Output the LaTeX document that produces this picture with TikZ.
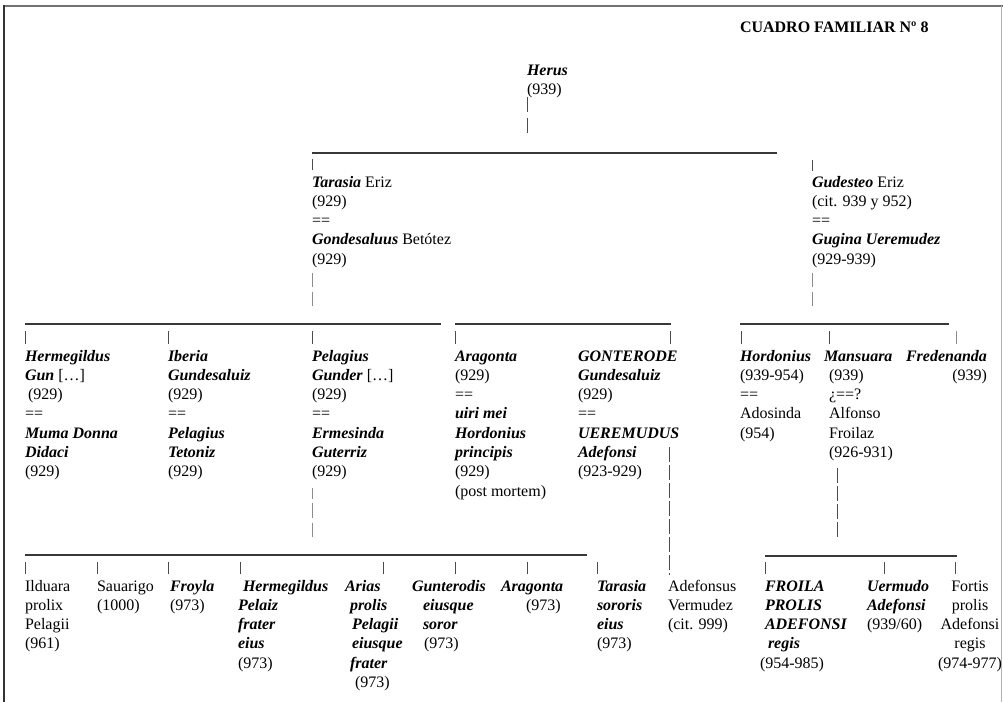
\documentclass[tikz,border=0pt]{standalone}
\usepackage{fontspec}
\setmainfont{Liberation Serif}
\newcommand\pf{\fontsize{16}{19.3}\selectfont}
\newcommand\nmb[1]{\textbf{\textit{#1}}}
\begin{document}
\begin{tikzpicture}[x=1pt,y=-1pt,
  pers/.style={anchor=north west, inner sep=0pt, outer sep=0pt, align=left, font=\pf, yshift=13.51pt},
  persr/.style={pers, align=right},
  persc/.style={pers, anchor=north, align=center},
  hbar/.style={line width=1.2pt, black!78},
  tk/.style={line width=0.7pt, black!70},
  tkl/.style={line width=0.6pt, black!45},
  tkd/.style={line width=0.7pt, black!70, dash pattern=on 15pt off 3pt}]
\useasboundingbox (0,0) rectangle (1003,702);

% page frame
\draw[line width=2pt, black!55] (3,6) -- (1003,6);
\draw[line width=1.6pt, black!80] (4,5) -- (4,702);
\draw[line width=0.8pt, black!30] (1001,6) -- (1001,702);

% title
\node[pers, font=\pf\bfseries] (title) at (740,32) {\strut CUADRO FAMILIAR Nº 8};

% generation 1
\node[pers] (herus) at (527,75) {\strut\nmb{Herus}\\(939)};
\coordinate (hA) at (527,97);
\coordinate (hB) at (527,133);
\draw[tk] (hA) -- ++(0,15);
\draw[tk] (hB) -- ++(0,-15);

% generation 2
\coordinate (b1l) at (312,153);
\coordinate (b1r) at (777,153);
\draw[hbar] (b1l) -- (b1r);

\node[pers] (tarasia) at (312,187) {\strut\nmb{Tarasia} Eriz\\(929)\\==\\\nmb{Gondesaluus} Betótez\\(929)};
\node[pers] (gudesteo) at (812,187) {\strut\nmb{Gudesteo} Eriz\\(cit. 939 y 952)\\==\\\nmb{Gugina Ueremudez}\\(929-939)};

\draw[tk] (312,159) -- (312,170);
\draw[tk] (812,160) -- (812,171);
\draw[tkl] (312,273) -- (312,287);
\draw[tkl] (312,292) -- (312,306);
\draw[tkl] (812,273) -- (812,287);
\draw[tkl] (812,292) -- (812,306);

% generation 3
\coordinate (b2al) at (25,324);  \coordinate (b2ar) at (441,324);
\coordinate (b2bl) at (455,324); \coordinate (b2br) at (671,324);
\coordinate (b2cl) at (740,324); \coordinate (b2cr) at (949,324);
\draw[hbar] (b2al) -- (b2ar);
\draw[hbar] (b2bl) -- (b2br);
\draw[hbar] (b2cl) -- (b2cr);

\foreach \x in {25,168,312,455,670,741,829}
  \draw[tk] (\x,331) -- (\x,344);
\draw[tkl] (956,331) -- (956,344);

\node[pers] (hermegildus) at (25,361) {\strut\nmb{Hermegildus}\\\nmb{Gun} […]\\\hspace*{3pt}(929)\\==\\\nmb{Muma Donna}\\\nmb{Didaci}\\(929)};
\node[pers] (iberia) at (168,361) {\strut\nmb{Iberia}\\\nmb{Gundesaluiz}\\(929)\\==\\\nmb{Pelagius}\\\nmb{Tetoniz}\\(929)};
\node[pers] (pelagius) at (312,361) {\strut\nmb{Pelagius}\\\nmb{Gunder} […]\\(929)\\==\\\nmb{Ermesinda}\\\nmb{Guterriz}\\(929)};
\node[pers] (aragonta) at (455,361) {\strut\nmb{Aragonta}\\(929)\\==\\\nmb{uiri mei}\\\nmb{Hordonius}\\\nmb{principis}\\(929)\\(post mortem)};
\node[pers] (gonterode) at (578,361) {\strut\nmb{GONTERODE}\\\nmb{Gundesaluiz}\\(929)\\==\\\nmb{UEREMUDUS}\\\nmb{Adefonsi}\\(923-929)};
\node[pers] (hordonius) at (740,361) {\strut\nmb{Hordonius}\\(939-954)\\==\\Adosinda\\(954)};
\node[pers] (mansuara) at (824,361) {\strut\nmb{Mansuara}\\\hspace*{5pt}(939)\\\hspace*{5pt}¿==?\\\hspace*{5pt}Alfonso\\\hspace*{5pt}Froilaz\\\hspace*{5pt}(926-931)};
\node[persr] (fredenanda) at (906,361) {\strut\nmb{Fredenanda}\\(939)};

\draw[tkl] (312,488) -- (312,499);
\draw[tkl] (312,503) -- (312,518);
\draw[tkl] (312,523) -- (312,537);
\draw[tkd] (669,447) -- (669,575);
\draw[tkd] (837,468) -- (837,537);

% generation 4
\coordinate (b3al) at (25,555);  \coordinate (b3ar) at (587,555);
\coordinate (b3bl) at (765,556); \coordinate (b3br) at (957,556);
\draw[hbar] (b3al) -- (b3ar);
\draw[hbar] (b3bl) -- (b3br);

\foreach \x in {25,97,168,240,383,455,527,597,765,884,955}
  \draw[tk] (\x,562) -- (\x,574);

\node[pers] (ilduara) at (25,591) {\strut Ilduara\\prolix\\Pelagii\\(961)};
\node[pers] (sauarigo) at (97,591) {\strut Sauarigo\\(1000)};
\node[pers] (froyla) at (170,591) {\strut\nmb{Froyla}\\(973)};
\node[pers] (hermpel) at (238,591) {\strut\hspace*{5pt}\nmb{Hermegildus}\\\nmb{Pelaiz}\\\nmb{frater}\\\nmb{eius}\\(973)};
\node[pers] (arias) at (345,591) {\strut\nmb{Arias}\\\hspace*{5pt}\nmb{prolis}\\\hspace*{7pt}\nmb{Pelagii}\\\hspace*{7pt}\nmb{eiusque}\\\hspace*{5pt}\nmb{frater}\\\hspace*{10pt}(973)};
\node[pers] (gunterodis) at (412,591) {\strut\nmb{Gunterodis}\\\hspace*{11pt}\nmb{eiusque}\\\hspace*{11pt}\nmb{soror}\\\hspace*{12pt}(973)};
\node[pers] (aragonta2) at (501,591) {\strut\nmb{Aragonta}\\\hspace*{25pt}(973)};
\node[pers] (tarasia2) at (597,591) {\strut\nmb{Tarasia}\\\nmb{sororis}\\\nmb{eius}\\(973)};
\node[pers] (adefonsus) at (668,591) {\strut Adefonsus\\Vermudez\\(cit. 999)};
\node[pers] (froila) at (765,591) {\strut\nmb{FROILA}\\\nmb{PROLIS}\\\nmb{ADEFONSI}\\\hspace*{3pt}\nmb{regis}\\\hspace*{-5pt}(954-985)};
\node[pers] (uermudo) at (867,591) {\strut\nmb{Uermudo}\\\nmb{Adefonsi}\\(939/60)};
\node[persc] (fortis) at (970,591) {\strut Fortis\\prolis\\Adefonsi\\regis\\(974-977)};
\end{tikzpicture}
\end{document}
